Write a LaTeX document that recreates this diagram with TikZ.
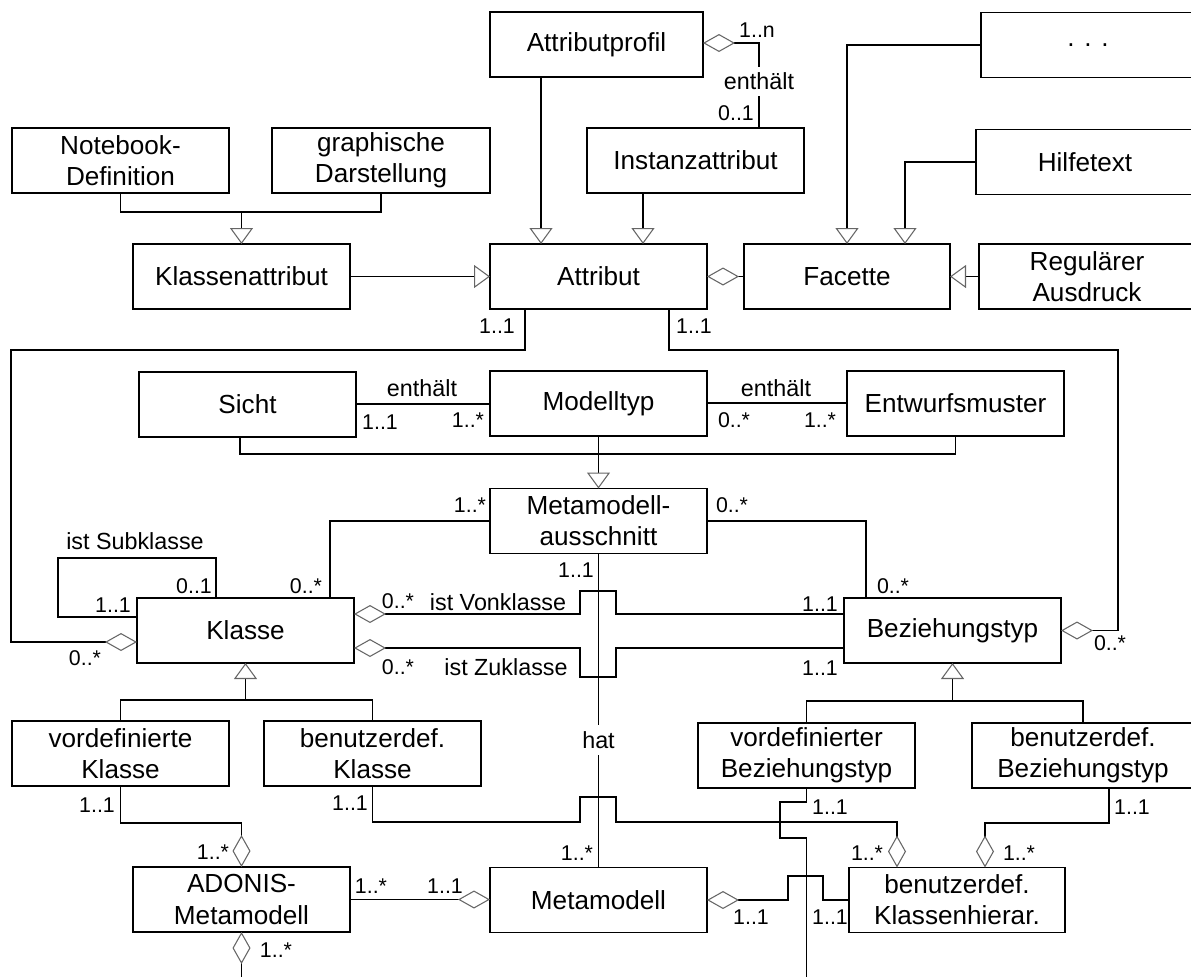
\documentclass[tikz,border=0pt]{standalone}
\usepackage{fontspec}
\setmainfont{Liberation Sans}
\usetikzlibrary{arrows.meta}
\begin{document}
\begin{tikzpicture}[x=0.75pt,y=-0.75pt,line width=1pt,
  box/.style={draw, line width=1pt, minimum width=162.75pt, minimum height=48.75pt,
    inner sep=0pt, outer sep=0pt, align=center, font=\fontsize{19.6}{23.3}\selectfont},
  mult/.style={inner sep=0pt, font=\fontsize{16}{18}\selectfont},
  role/.style={inner sep=0pt, font=\fontsize{17.5}{20}\selectfont},
  gap/.style={role, fill=white, inner xsep=1pt, inner ysep=4.5pt},
  gen/.style={-{Triangle[open,length=12pt,width=17.25pt,line width=0.8pt,color=black!60]}},
  aggs/.style={{Diamond[open,length=24pt,width=13.5pt,line width=0.8pt,color=black!60]}-},
  agge/.style={-{Diamond[open,length=24pt,width=13.5pt,line width=0.8pt,color=black!60]}},
]
\useasboundingbox (0,0) rectangle (1191,976);
\clip (0,0) rectangle (1191,976);

% ---------- classes ----------
\node[box] (notebook) at (120.5,160.5) {Notebook-\\Definition};
\node[box, minimum width=163.5pt] (graph) at (381,160.5) {graphische\\Darstellung};
\node[box, minimum width=159.75pt] (aprofil) at (596.5,44.5) {Attributprofil};
\node[box] (inst) at (695.5,160.5) {Instanzattribut};
\node[box, minimum width=160.5pt] (dots) at (1088,45) {. . .};
\node[box, minimum width=163.5pt] (hilfe) at (1085,162) {Hilfetext};
\node[box] (kattr) at (241.5,276.5) {Klassenattribut};
\node[box] (attr) at (598.5,276.5) {Attribut};
\node[box, minimum width=154.5pt] (facette) at (847,276.5) {Facette};
\node[box, minimum width=162pt] (regex) at (1087,276.5) {Regulärer\\Ausdruck};
\node[box] (sicht) at (247.5,404.5) {Sicht};
\node[box] (mtyp) at (598.5,403.5) {Modelltyp};
\node[box] (entw) at (955.5,403.5) {Entwurfsmuster};
\node[box] (mma) at (598.5,521) {Metamodell-\\ausschnitt};
\node[box] (klasse) at (245.5,630.5) {Klasse};
\node[box] (bez) at (952.5,630.5) {Beziehungstyp};
\node[box] (vkl) at (120.5,753.5) {vordefinierte\\Klasse};
\node[box] (bkl) at (372.5,753.5) {benutzerdef.\\Klasse};
\node[box] (vbez) at (806.5,755.5) {vordefinierter\\Beziehungstyp};
\node[box, minimum width=166.5pt] (bbez) at (1083,755.5) {benutzerdef.\\Beziehungstyp};
\node[box] (adonis) at (241.5,899.5) {ADONIS-\\Metamodell};
\node[box] (mm) at (598.5,900) {Metamodell};
\node[box, minimum width=162pt] (bkh) at (957,900) {benutzerdef.\\Klassenhierar.};

% ---------- attribute part ----------
\draw (notebook.south) -- ++(0,19) -| (graph.south);
\draw[gen] (kattr.north |- 0,212) -- (kattr.north);
\draw[gen] (aprofil.south -| 541,0) -- (attr.north -| 541,0);
\draw[gen] (inst.south -| 643,0) -- (attr.north -| 643,0);
\draw[gen] (kattr.east) -- (attr.west);
\draw[aggs] (aprofil.east |- 0,43) -- (759,43)
  -- node[gap, pos=0.45] {enthält} (inst.north -| 759,0);
\node[mult] (m1n) at (757,30) {1..n};
\node[mult] (m01a) at (736,113) {0..1};
\draw[aggs] (attr.east) -- (facette.west);
\draw[gen] (dots.west) -| (facette.north -| 847,0);
\draw[gen] (hilfe.west) -| (facette.north -| 905,0);
\draw[gen] (regex.west) -- (facette.east);

% Attribut to Klasse / Beziehungstyp
\draw[agge] (attr.south -| 525,0) -- (525,350) -- (11,350) -- (11,642) -- (klasse.west |- 0,642);
\node[mult] (ma1) at (497,326) {1..1};
\node[mult] (ma2) at (85,658) {0..*};
\draw[agge] (attr.south -| 669,0) -- (669,350) -- (1118,350) -- (1118,630.5) -- (bez.east);
\node[mult] (ma3) at (694,326) {1..1};
\node[mult] (ma4) at (1110,643) {0..*};

% ---------- model types ----------
\draw (sicht.east |- 0,404) -- (mtyp.west |- 0,404);
\node[role] (r1) at (422,388) {enthält};
\node[mult] (m2) at (380,422) {1..1};
\node[mult] (m3) at (468,420) {1..*};
\draw (mtyp.east |- 0,403) -- (entw.west |- 0,403);
\node[role] (r2) at (776,388) {enthält};
\node[mult] (m4) at (734,420) {0..*};
\node[mult] (m5) at (820,420) {1..*};
\draw (sicht.south -| 240,0) -- (240,454) -| (entw.south);
\draw[gen] (mtyp.south) -- (mma.north);

% Metamodellausschnitt
\draw (mma.west) -| (klasse.north -| 330,0);
\node[mult] (m6) at (470,505) {1..*};
\node[mult] (m7) at (306,586) {0..*};
\draw (mma.east) -| (bez.north -| 866,0);
\node[mult] (m8) at (732,505) {0..*};
\node[mult] (m9) at (893,586) {0..*};
\draw (mma.south) -- node[gap, pos=0.594] {hat} (mm.north);
\node[mult] (m10) at (576,570) {1..1};
\node[mult] (m11) at (577,853) {1..*};

% ---------- Klasse / Beziehungstyp ----------
\draw (klasse.west |- 0,617) -- (58,617) -- (58,558) -- (216,558) -- (klasse.north -| 216,0);
\node[role] (r3) at (135,541) {ist Subklasse};
\node[mult] (m12) at (113,605) {1..1};
\node[mult] (m13) at (194,586) {0..1};

\draw[aggs] (klasse.east |- 0,614) -- (580,614) -- (580,591) -- (616,591) -- (616,614) -- (bez.west |- 0,614);
\node[mult] (m14) at (398,601) {0..*};
\node[role] (r4) at (498,602) {ist Vonklasse};
\node[mult] (m15) at (820,604) {1..1};
\draw[aggs] (klasse.east |- 0,648) -- (580,648) -- (580,677) -- (616,677) -- (616,648) -- (bez.west |- 0,648);
\node[mult] (m16) at (398,667) {0..*};
\node[role] (r5) at (506,667) {ist Zuklasse};
\node[mult] (m17) at (820,668) {1..1};

\draw (vkl.north) -- ++(0,-21) -| (bkl.north);
\draw[gen] (klasse.south |- 0,700) -- (klasse.south);
\draw (vbez.north) -- ++(0,-22) -| (bbez.north);
\draw[gen] (bez.south |- 0,701) -- (bez.south);

% ---------- metamodel part ----------
\draw[agge] (vkl.south) -- ++(0,37) -| (adonis.north);
\node[mult] (m18) at (97,805) {1..1};
\node[mult] (m19) at (213,852) {1..*};
\draw[agge] (adonis.east) -- (adonis.east -| mm.west);
\node[mult] (m20) at (371,886) {1..*};
\node[mult] (m21) at (445,886) {1..1};
\draw[aggs] (adonis.south) -- (241.5,990);
\node[mult] (m22) at (276,950) {1..*};

\draw[aggs] (mm.east) -- (788,900) -- (788,876) -- (823,876) -- (823,900) -- (bkh.west);
\node[mult] (m23) at (751,917) {1..1};
\node[mult] (m24) at (830,917) {1..1};

\draw[agge] (bkl.south) -- (372.5,822) -- (580,822) -- (580,797) -- (616,797) -- (616,822)
  -- (897,822) -- (bkh.north -| 897,0);
\node[mult] (m25) at (350,803) {1..1};
\node[mult] (m26) at (867,853) {1..*};

\draw[agge] (bbez.south -| 1109,0) -- (1109,823) -- (985,823) -- (bkh.north -| 985,0);
\node[mult] (m27) at (1132,807) {1..1};
\node[mult] (m28) at (1019,853) {1..*};

\draw (vbez.south) -- (806.5,802) -- (780,802) -- (780,838) -- (806.5,838) -- (806.5,990);
\node[mult] (m29) at (830,807) {1..1};

\end{tikzpicture}
\end{document}
